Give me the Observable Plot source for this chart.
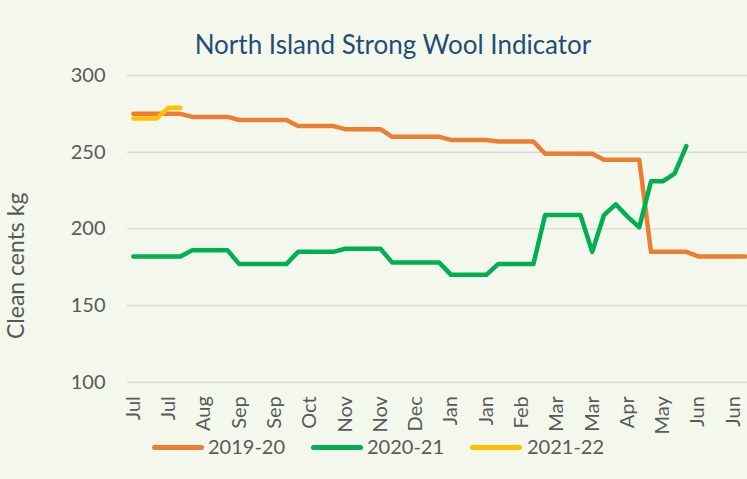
<!DOCTYPE html>
<html><head><meta charset="utf-8">
<script src="https://cdn.jsdelivr.net/npm/d3@7"></script>
<script src="https://cdn.jsdelivr.net/npm/@observablehq/plot@0.6"></script>
<style>
html,body{margin:0;padding:0;background:#f4f8ec;}
#wrap{position:relative;width:747px;height:479px;overflow:hidden;font-family:Lato,sans-serif;}
#title{position:absolute;top:29px;left:0;width:786px;text-align:center;font-size:26px;line-height:31.2px;color:#1F4E79;white-space:nowrap;}
.sw{position:absolute;height:5px;border-radius:3px;top:444.5px;width:52px;}
.lt{position:absolute;top:434px;font-size:20px;line-height:24px;color:#595959;white-space:nowrap;}
#chart{position:absolute;left:0;top:0;}
</style>
</head><body>
<div id="wrap">
  <div id="chart"></div>
  <div id="title"></div>
  <div id="legend"></div>
</div>
<script>
const title = "North Island Strong Wool Indicator";
const yLabel = "Clean cents kg";
const seasons = ["2019-20", "2020-21", "2021-22"];
const colors = ["#ED7D31", "#00B050", "#FFC000"];
const tickLabels = ["Jul","Jul","Aug","Sep","Sep","Oct","Nov","Nov","Dec","Jan","Jan","Feb","Mar","Mar","Apr","May","Jun","Jun"];
const yTicks = [100, 150, 200, 250, 300];
const s2019_20 = [275,275,275,275,275,273,273,273,273,271,271,271,271,271,267,267,267,267,265,265,265,265,260,260,260,260,260,258,258,258,258,257,257,257,257,249,249,249,249,249,245,245,245,245,185,185,185,185,182,182,182,182,182];
const s2020_21 = [182,182,182,182,182,186,186,186,186,177,177,177,177,177,185,185,185,185,187,187,187,187,178,178,178,178,178,170,170,170,170,177,177,177,177,209,209,209,209,185,209,216,208,201,231,231,236,254];
const s2021_22 = [272,272,272,279,279];

const seriesList = [s2019_20, s2020_21, s2021_22];
const data = seriesList.flatMap((arr, k) => arr.map((v, i) => ({i, v, season: seasons[k]})));
const tickIdx = tickLabels.map((_, j) => j * 3);

const chart = Plot.plot({
  width: 747, height: 479,
  marginTop: 75, marginBottom: 97.3, marginLeft: 127, marginRight: 0,
  style: {background: "transparent", fontFamily: "Lato, sans-serif", fontSize: "20px", color: "#595959", overflow: "visible"},
  x: {domain: [-0.5, 52.2], axis: null},
  y: {domain: [100, 300], axis: null},
  color: {domain: seasons, range: colors},
  marks: [
    Plot.gridY(yTicks, {stroke: "#d9d9d9", strokeOpacity: 1, strokeWidth: 1.4}),
    Plot.axisY(yTicks, {tickSize: 0, tickPadding: 22, fontSize: 20, fill: "#595959", label: null}),
    Plot.axisX(tickIdx, {tickSize: 0, tickRotate: -90, tickPadding: 14, fontSize: 20, fill: "#595959", label: null, tickFormat: d => tickLabels[d / 3]}),
    Plot.line(data, {x: "i", y: "v", z: "season", stroke: "season", strokeWidth: 4.5, strokeLinecap: "round", strokeLinejoin: "round"}),
    Plot.text([yLabel], {frameAnchor: "left", dx: -111, dy: 37, rotate: -90, textAnchor: "middle", fontSize: 23, fill: "#595959"})
  ]
});
document.getElementById("chart").appendChild(chart);
document.getElementById("title").textContent = title;

const legendPos = [[152, 208], [311, 367], [470, 527]];
const leg = document.getElementById("legend");
seasons.forEach((s, k) => {
  const sw = document.createElement("div");
  sw.className = "sw"; sw.style.left = legendPos[k][0] + "px"; sw.style.background = colors[k];
  const t = document.createElement("div");
  t.className = "lt"; t.style.left = legendPos[k][1] + "px"; t.textContent = s;
  leg.appendChild(sw); leg.appendChild(t);
});
</script>
</body></html>
